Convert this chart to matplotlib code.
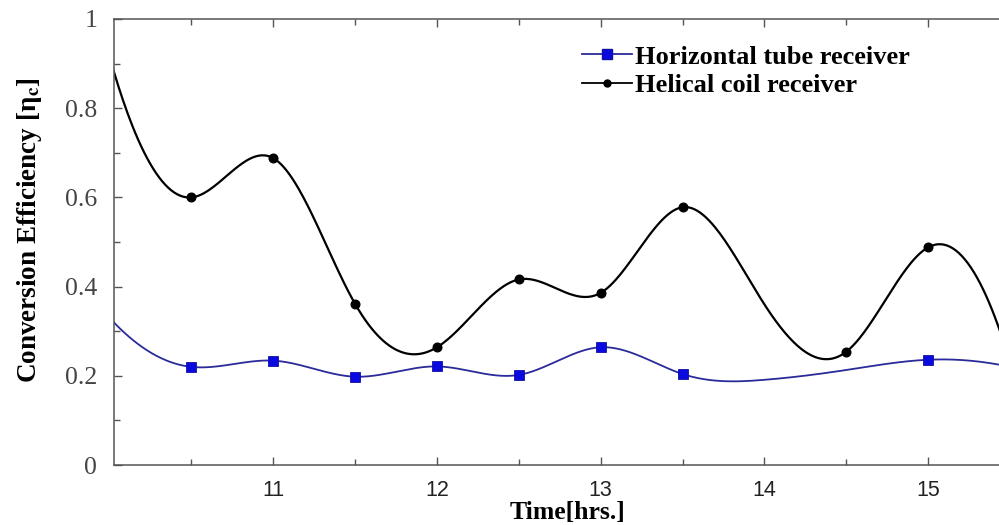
import numpy as np
import matplotlib
matplotlib.use('Agg')
import matplotlib.pyplot as plt
from matplotlib.ticker import MultipleLocator, FuncFormatter

plt.rcParams['mathtext.fontset'] = 'stix'

# data
time_hrs = [10.0, 10.5, 11.0, 11.5, 12.0, 12.5, 13.0, 13.5, 14.0, 14.5, 15.0, 15.5]
horizontal_tube = [0.330, 0.220, 0.234, 0.198, 0.221, 0.202, 0.264, 0.204, 0.191, 0.213, 0.236, 0.220]
helical_coil = [0.915, 0.600, 0.688, 0.361, 0.264, 0.416, 0.386, 0.578, 0.360, 0.254, 0.488, 0.230]

# points that carry a marker in the original
horizontal_marked = [1, 2, 3, 4, 5, 6, 7, 10, 11]
helical_marked = [1, 2, 3, 4, 5, 6, 7, 9, 10, 11]

legend_labels = ['Horizontal tube receiver', 'Helical coil receiver']


def spline(x, y, n=600):
    # cubic spline through the points, parabolic run-out at both ends
    x = np.asarray(x, float)
    y = np.asarray(y, float)
    k = len(x)
    h = np.diff(x)
    A = np.zeros((k, k))
    r = np.zeros(k)
    A[0, 0], A[0, 1] = 1, -1
    A[-1, -2], A[-1, -1] = -1, 1
    for i in range(1, k - 1):
        A[i, i - 1] = h[i - 1]
        A[i, i] = 2 * (h[i - 1] + h[i])
        A[i, i + 1] = h[i]
        r[i] = 3 * ((y[i + 1] - y[i]) / h[i] - (y[i] - y[i - 1]) / h[i - 1])
    c = np.linalg.solve(A, r)
    b = (y[1:] - y[:-1]) / h - h * (2 * c[:-1] + c[1:]) / 3
    d = (c[1:] - c[:-1]) / (3 * h)
    xs = np.linspace(x[0], x[-1], n)
    idx = np.clip(np.searchsorted(x, xs, side='right') - 1, 0, k - 2)
    dt = xs - x[idx]
    ys = y[idx] + b[idx] * dt + c[idx] * dt ** 2 + d[idx] * dt ** 3
    return xs, ys


def main():
    fig = plt.figure(figsize=(9.99, 5.25), dpi=100)
    W, H = 999.0, 525.0
    x_left, x_right = 114.0, 1010.0
    y_top, y_bot = 19.0, 465.0
    ax = fig.add_axes([x_left / W, 1 - y_bot / H, (x_right - x_left) / W, (y_bot - y_top) / H])

    blue_line = '#2a2a9a'
    blue_mark = '#0a0ae0'

    xs, ys = spline(time_hrs, horizontal_tube)
    ax.plot(xs, ys, color=blue_line, lw=1.3, zorder=2)
    ax.plot(np.array(time_hrs)[horizontal_marked], np.array(horizontal_tube)[horizontal_marked],
            linestyle='none', marker='s', ms=6.5, color=blue_mark, mec='#1010a0', mew=0.6, zorder=3)

    xs, ys = spline(time_hrs, helical_coil)
    ax.plot(xs, ys, color='black', lw=1.6, zorder=2)
    ax.plot(np.array(time_hrs)[helical_marked], np.array(helical_coil)[helical_marked],
            linestyle='none', marker='o', ms=6.2, color='black', zorder=3)

    # legend handles
    h1, = ax.plot([], [], color=blue_line, lw=1.3, marker='s', ms=6.5, mfc=blue_mark, mec='#1010a0')
    h2, = ax.plot([], [], color='black', lw=1.3, marker='o', ms=5)
    ax.legend([h1, h2], legend_labels, loc='upper left', bbox_to_anchor=(0.51, 0.965),
              frameon=False, handlelength=1.9, handletextpad=0.12, labelspacing=0.2,
              borderaxespad=0, prop={'family': 'Liberation Serif', 'weight': 'bold', 'size': 19})

    ax.set_xlim(10.027, 15.5)
    ax.set_ylim(0, 1)
    ax.xaxis.set_major_locator(MultipleLocator(1))
    ax.xaxis.set_minor_locator(MultipleLocator(0.5))
    ax.yaxis.set_major_locator(MultipleLocator(0.2))
    ax.yaxis.set_minor_locator(MultipleLocator(0.1))
    ax.yaxis.set_major_formatter(FuncFormatter(lambda v, p: '%g' % round(v, 2)))

    for s in ax.spines.values():
        s.set_color('#555555')
        s.set_linewidth(1.1)
    ax.tick_params(which='both', direction='in', top=True, right=False, color='#555555', width=1.0)
    ax.tick_params(which='major', length=6)
    ax.tick_params(which='minor', length=4)
    ax.tick_params(axis='x', pad=11, labelsize=15.5, labelcolor='#222222')
    ax.tick_params(axis='y', pad=12, labelsize=18.5, labelcolor='#444444')
    for t in ax.get_xticklabels():
        t.set_family('Liberation Sans')
    for t in ax.get_yticklabels():
        t.set_family('Liberation Serif')

    ax.set_xlabel('Time[hrs.]', family='Liberation Serif', weight='bold', fontsize=18.5)
    ax.xaxis.set_label_coords(0.506, -0.08)
    ax.set_ylabel('Conversion Efficiency [η$_{\\mathbf{c}}$]', family='Liberation Serif',
                  weight='bold', fontsize=19.5)
    ax.yaxis.set_label_coords(-0.078, 0.527)

    fig.savefig('out.png', dpi=100)


if __name__ == "__main__":
    main()
